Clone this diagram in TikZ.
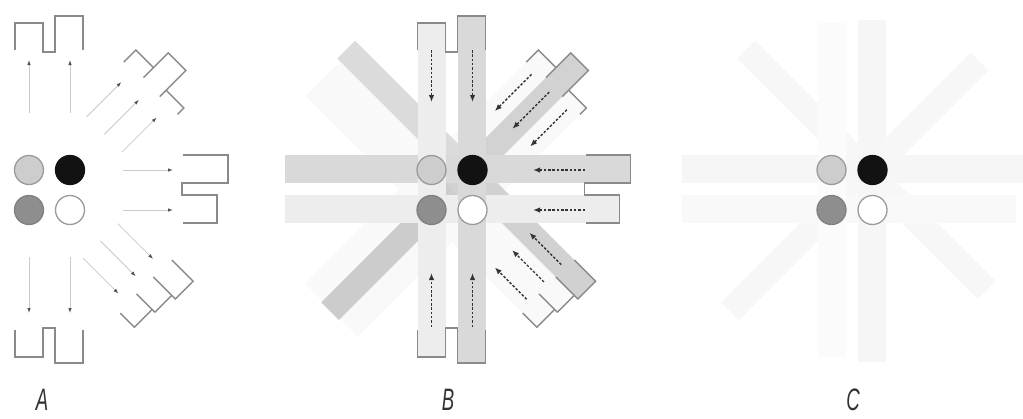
\documentclass[tikz,border=0pt]{standalone}
\usepackage{fontspec}
\setmainfont{Liberation Sans}
\usetikzlibrary{arrows.meta}
\definecolor{wallc}{HTML}{8A8A8A}
\definecolor{arrline}{HTML}{CACACA}
\definecolor{arrhead}{HTML}{505050}
\definecolor{dashc}{HTML}{333333}
\definecolor{cLight}{HTML}{CDCDCD}
\definecolor{cDark}{HTML}{8E8E8E}
\definecolor{cBlack}{HTML}{121212}
\definecolor{cEdge}{HTML}{9A9A9A}
\newcommand\CombT{\draw[wall] (-34.5,140) -- (-34.5,167) -- (-6.5,167) -- (-6.5,138) -- (5.5,138) -- (5.5,174) -- (33.5,174) -- (33.5,140);}
\newcommand\CombR{\draw[wall] (-35,133.5) -- (-35,178.5) -- (-7,178.5) -- (-7,132.5) -- (5,132.5) -- (5,167.5) -- (33,167.5) -- (33,133.5);}
\newcommand\CombB{\draw[wall] (-33.5,140) -- (-33.5,173) -- (-5.5,173) -- (-5.5,138) -- (6.5,138) -- (6.5,167) -- (34.5,167) -- (34.5,140);}
\newcommand\CombUR{\draw[wall] (-38,143) -- (-38,160) -- (-13,160); \draw[wall] (-13,146) -- (-13,181) -- (12,181) -- (12,144); \draw[wall] (12,153) -- (37,153) -- (37,144);}
\newcommand\CombLR{\draw[wall] (-37,136) -- (-37,166) -- (-12,166) -- (-12,135); \draw[wall] (-12,161) -- (12,161); \draw[wall] (12,135) -- (12,161); \draw[wall] (12,157) -- (37,157) -- (37,137);}
\newcommand\Discs[1]{%
  \node[disc, fill=cLight, draw=cEdge] (#1tl) at (-20.5,20) {};
  \node[disc, fill=cBlack, draw=cBlack] (#1tr) at (20.5,20) {};
  \node[disc, fill=cDark, draw=cDark!90!black] (#1bl) at (-20.5,-20) {};
  \node[disc, fill=white, draw=cEdge] (#1br) at (20.5,-20) {};}
\begin{document}
\begin{tikzpicture}[x=1pt,y=1pt,
  wall/.style={draw=wallc, line width=1.4pt, line join=miter},
  arrA/.style={draw=arrline, line width=0.8pt, -{Latex[length=5pt,width=3.5pt,color=arrhead]}},
  arrB/.style={draw=dashc, line width=1.4pt, dash pattern=on 2.5pt off 1.8pt, -{Latex[length=7pt,width=5.5pt]}},
  disc/.style={circle, minimum size=29pt, inner sep=0pt, line width=1.3pt},
  lbl/.style={text=black!80, inner sep=0pt}]
\useasboundingbox (0,0) rectangle (1023,-418);
\fill[white] (0,0) rectangle (1023,-418);

% ---------------- Panel A ----------------
\begin{scope}[shift={(49.5,-190)}]
  \begin{scope}[rotate=0]
    \CombT
    \draw[arrA] (-20.5,77) -- (-20.5,130);
    \draw[arrA] (20.5,77) -- (20.5,130);
  \end{scope}
  \begin{scope}[rotate=-90]
    \CombR
    \draw[arrA] (-20,73.5) -- (-20,123.5);
    \draw[arrA] (20,73.5) -- (20,123.5);
  \end{scope}
  \begin{scope}[rotate=180]
    \CombB
    \draw[arrA] (-20.5,67) -- (-20.5,123);
    \draw[arrA] (20.5,67) -- (20.5,123);
  \end{scope}
  \begin{scope}[rotate=-45]
    \CombUR
    \foreach \l in {-25.5,-0.5,24.5} \draw[arrA] (\l,78) -- (\l,127);
  \end{scope}
  \begin{scope}[rotate=-135]
    \CombLR
    \foreach \l in {-24.5,0,24.5} \draw[arrA] (\l,72) -- (\l,122);
  \end{scope}
  \Discs{a}
\end{scope}

% ---------------- Panel B ----------------
\begin{scope}[shift={(452,-190)}]
  \begin{scope}[rotate=-45]
    \fill[gray!5] (-38,-170) rectangle (-13,160);
    \fill[gray!5] (12,-170) rectangle (37,153);
  \end{scope}
  \begin{scope}[rotate=-135]
    \fill[gray!5] (-12,-170) rectangle (12,161);
    \fill[gray!5] (12,-170) rectangle (37,157);
  \end{scope}
  \begin{scope}[rotate=-45]
    \fill[gray!35] (-13,0) rectangle (12,181);
    \fill[gray!40] (-13,-172) rectangle (12,0);
  \end{scope}
  \begin{scope}[rotate=-135]
    \fill[gray!36] (-37,0) rectangle (-12,166);
    \fill[gray!28] (-37,-174) rectangle (-12,0);
  \end{scope}
  \begin{scope}[rotate=-90]
    \fill[gray!30] (-35,-167) rectangle (-7,178.5);
    \fill[gray!14] (5,-167) rectangle (33,167.5);
  \end{scope}
  \begin{scope}[rotate=0]
    \fill[gray!14] (-34.5,-167) rectangle (-6.5,167);
    \fill[gray!30] (5.5,-173) rectangle (33.5,174);
  \end{scope}
  \begin{scope}[rotate=0]
    \CombT
    \draw[arrB] (-20.5,140) -- (-20.5,88);
    \draw[arrB] (20.5,140) -- (20.5,88);
  \end{scope}
  \begin{scope}[rotate=-90]
    \CombR
    \draw[arrB] (-20,133) -- (-20,81);
    \draw[arrB] (20,133) -- (20,81);
  \end{scope}
  \begin{scope}[rotate=180]
    \CombB
    \draw[arrB] (-20.5,137) -- (-20.5,83);
    \draw[arrB] (20.5,137) -- (20.5,83);
  \end{scope}
  \begin{scope}[rotate=-45]
    \CombUR
    \foreach \l in {-25.5,-0.5,24.5} \draw[arrB] (\l,138) -- (\l,86);
  \end{scope}
  \begin{scope}[rotate=-135]
    \CombLR
    \foreach \l in {-24.5,0,24.5} \draw[arrB] (\l,130) -- (\l,85);
  \end{scope}
  \Discs{b}
\end{scope}

% ---------------- Panel C ----------------
\begin{scope}[shift={(852,-190)}]
  \begin{scope}[rotate=-45]
    \fill[gray!6] (-13,-172) rectangle (12,181);
  \end{scope}
  \begin{scope}[rotate=-135]
    \fill[gray!6] (-37,-174) rectangle (-12,166);
  \end{scope}
  \begin{scope}[rotate=-90]
    \fill[gray!7] (-35,-170) rectangle (-7,172);
    \fill[gray!5] (5,-170) rectangle (33,164);
  \end{scope}
  \begin{scope}[rotate=0]
    \fill[gray!3] (-34.5,-167) rectangle (-6.5,167);
    \fill[gray!7] (5.5,-172) rectangle (33.5,170);
  \end{scope}
  \Discs{c}
\end{scope}

% ---------------- Labels ----------------
\node[lbl] (labA) at (42,-400) {\scalebox{0.6}[1]{\fontsize{31}{31}\selectfont\itshape A}};
\node[lbl] (labB) at (448,-400) {\scalebox{0.6}[1]{\fontsize{31}{31}\selectfont\itshape B}};
\node[lbl] (labC) at (853,-400) {\scalebox{0.6}[1]{\fontsize{31}{31}\selectfont\itshape C}};
\end{tikzpicture}
\end{document}
